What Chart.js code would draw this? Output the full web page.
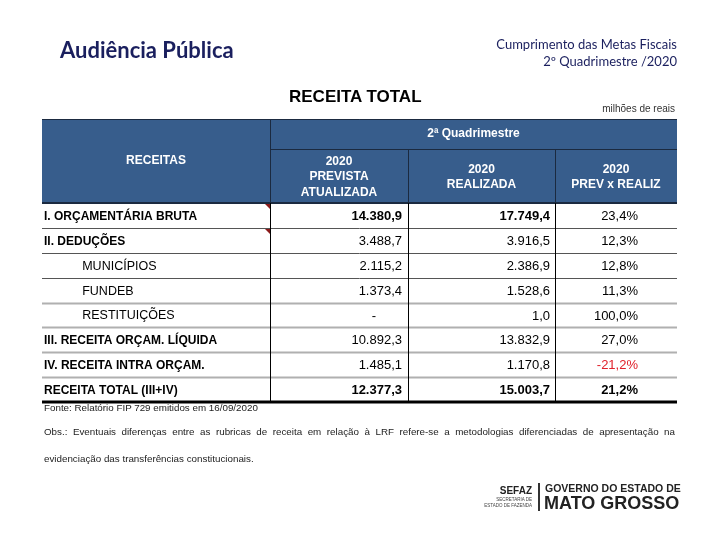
<!DOCTYPE html>
<html><head><meta charset="utf-8">
<script src="https://cdn.jsdelivr.net/npm/chart.js@4.4.0/dist/chart.umd.min.js"></script>
<style>
html,body{margin:0;padding:0;background:#fff;width:720px;height:540px;overflow:hidden;}
#wrap{position:relative;width:720px;height:540px;}
canvas{position:absolute;left:0;top:0;}
.t{position:absolute;white-space:nowrap;line-height:1;}
.navy{color:#1a1f5e;font-family:'Lato',sans-serif;}
.ar{font-family:'Liberation Sans',Arial,sans-serif;}
</style></head><body>
<div id="wrap">
<canvas id="c" width="720" height="540"></canvas>
<div class="t navy" style="left:60px;top:39px;font-size:22px;font-weight:bold;">Audiência Pública</div>
<div class="t navy" style="right:43px;top:38px;font-size:13px;text-align:right;">Cumprimento das Metas Fiscais</div>
<div class="t navy" style="right:43px;top:55px;font-size:13px;text-align:right;">2º Quadrimestre /2020</div>
<div class="t ar" style="left:289px;top:88px;font-size:17px;font-weight:bold;color:#000;">RECEITA TOTAL</div>
<div class="t ar" style="right:45px;top:104px;font-size:10px;color:#333;">milhões de reais</div>
<div class="t ar" style="left:44px;top:403px;font-size:9.8px;color:#222;">Fonte: Relatório FIP 729 emitidos em 16/09/2020</div>
<div class="t ar" style="left:44px;top:427px;width:631px;font-size:9.8px;color:#222;text-align:justify;text-align-last:justify;white-space:normal;">Obs.: Eventuais diferenças entre as rubricas de receita em relação à LRF refere-se a metodologias diferenciadas de apresentação na</div>
<div class="t ar" style="left:44px;top:454px;font-size:9.8px;color:#222;">evidenciação das transferências constitucionais.</div>
<div class="t ar" style="right:188px;top:486px;font-size:10px;font-weight:bold;color:#222;text-align:right;">SEFAZ</div>
<div class="t ar" style="right:188px;top:497px;font-size:4.5px;color:#444;text-align:right;line-height:1.3;">SECRETARIA DE<br>ESTADO DE FAZENDA</div>
<div style="position:absolute;left:538px;top:483px;width:2px;height:28px;background:#333;"></div>
<div class="t ar" style="left:545px;top:483px;font-size:10.5px;font-weight:bold;color:#222;">GOVERNO DO ESTADO DE</div>
<div class="t ar" style="left:544px;top:494px;font-size:18px;font-weight:bold;color:#222;">MATO GROSSO</div>
</div>
<script>
// ---- data ----
const rowLabels = ['I. ORÇAMENTÁRIA BRUTA','II. DEDUÇÕES','MUNICÍPIOS','FUNDEB','RESTITUIÇÕES','III. RECEITA ORÇAM. LÍQUIDA','IV. RECEITA INTRA ORÇAM.','RECEITA TOTAL (III+IV)'];
const rowLevel = [0,0,1,1,1,0,0,0];
const rowBold = [1,1,0,0,0,1,1,1];
const prevista = [14380.9, 3488.7, 2115.2, 1373.4, null, 10892.3, 1485.1, 12377.3];
const realizada = [17749.4, 3916.5, 2386.9, 1528.6, 1.0, 13832.9, 1170.8, 15003.7];
const variacao = [23.4, 12.3, 12.8, 11.3, 100.0, 27.0, -21.2, 21.2];
const firstHeader = 'RECEITAS';
const groupHeader = '2ª Quadrimestre';
const colHeaders = [['2020','PREVISTA','ATUALIZADA'],['2020','REALIZADA'],['2020','PREV x REALIZ']];

// ---- layout ----
const colEdges = [0, 138, 285, 407];
const HEADER_H = 84, HEADER_SPLIT = 30;
const FONT = 'Liberation Sans, Arial, sans-serif';

function fmt(n){
  const neg = n < 0; n = Math.abs(n);
  let [i,d] = n.toFixed(1).split('.');
  i = i.replace(/\B(?=(\d{3})+(?!\d))/g,'.');
  return (neg?'-':'') + i + ',' + d;
}

const tablePlugin = {
  id:'table',
  beforeDraw(chart){
    const {ctx, chartArea:a, scales:{x,y}} = chart;
    const L = y.left - 2, R = a.right, B = a.top, T = a.top - HEADER_H;
    const cx = colEdges.map(v => x.getPixelForValue(v));
    ctx.save();
    ctx.fillStyle = '#375D8C';
    ctx.fillRect(L, T, R-L, HEADER_H);
    ctx.strokeStyle = '#1b2a40'; ctx.lineWidth = 1;
    ctx.beginPath();
    ctx.moveTo(L, T+0.5); ctx.lineTo(R, T+0.5);
    ctx.moveTo(cx[0], T+HEADER_SPLIT+0.5); ctx.lineTo(R, T+HEADER_SPLIT+0.5);
    ctx.moveTo(cx[0]+0.5, T); ctx.lineTo(cx[0]+0.5, B);
    ctx.moveTo(cx[1]+0.5, T+HEADER_SPLIT); ctx.lineTo(cx[1]+0.5, B);
    ctx.moveTo(cx[2]+0.5, T+HEADER_SPLIT); ctx.lineTo(cx[2]+0.5, B);
    ctx.stroke();
    ctx.fillStyle = '#fff';
    ctx.font = 'bold 12px ' + FONT;
    ctx.textAlign = 'center'; ctx.textBaseline = 'middle';
    ctx.fillText(firstHeader, (L + cx[0])/2, T + HEADER_H/2);
    ctx.fillText(groupHeader, (cx[0] + R)/2, T + HEADER_SPLIT/2);
    const subMid = T + HEADER_SPLIT + (HEADER_H - HEADER_SPLIT)/2;
    colHeaders.forEach((lines, k) => {
      const mx = (cx[k] + cx[k+1])/2;
      const lh = 15.5;
      lines.forEach((s, j) => {
        ctx.fillText(s, mx, subMid + (j - (lines.length-1)/2)*lh + 1);
      });
    });
    ctx.restore();
  },
  afterDraw(chart){
    const {ctx, chartArea:a, scales:{x,y}} = chart;
    const L = y.left - 2, R = a.right;
    const cx = colEdges.map(v => x.getPixelForValue(v));
    const band = y.getPixelForValue(1) - y.getPixelForValue(0);
    const n = rowLabels.length;
    ctx.save();
    for (let i = 1; i < n; i++){
      const yy = y.getPixelForValue(i) - band/2;
      if (i <= 3){ ctx.strokeStyle = '#555'; ctx.lineWidth = 1; }
      else { ctx.strokeStyle = '#b0b0b0'; ctx.lineWidth = 2; }
      ctx.beginPath(); ctx.moveTo(L, Math.round(yy)+0.5); ctx.lineTo(R, Math.round(yy)+0.5); ctx.stroke();
    }
    ctx.strokeStyle = '#1b2a40'; ctx.lineWidth = 2;
    ctx.beginPath(); ctx.moveTo(L, a.top); ctx.lineTo(R, a.top); ctx.stroke();
    ctx.strokeStyle = '#000'; ctx.lineWidth = 3;
    ctx.beginPath(); ctx.moveTo(L, a.bottom); ctx.lineTo(R, a.bottom); ctx.stroke();
    ctx.strokeStyle = '#000'; ctx.lineWidth = 1;
    ctx.beginPath();
    for (let k = 0; k < 3; k++){
      ctx.moveTo(cx[k]+0.5, a.top); ctx.lineTo(cx[k]+0.5, a.bottom - 1);
    }
    ctx.stroke();
    ctx.fillStyle = '#8b1a1a';
    [0,1].forEach(i => {
      const top = y.getPixelForValue(i) - band/2 + 1;
      ctx.beginPath(); ctx.moveTo(cx[0]-5, top); ctx.lineTo(cx[0], top); ctx.lineTo(cx[0], top+5); ctx.closePath(); ctx.fill();
    });
    ctx.textBaseline = 'middle'; ctx.textAlign = 'right';
    for (let i = 0; i < n; i++){
      const yy = y.getPixelForValue(i) + 1;
      const boldV = (i === 0 || i === n-1);
      ctx.fillStyle = '#000';
      ctx.font = (boldV ? 'bold ' : '') + '13px ' + FONT;
      if (prevista[i] === null) ctx.fillText('-', cx[1] - 32, yy);
      else ctx.fillText(fmt(prevista[i]), cx[1] - 6, yy);
      ctx.fillText(fmt(realizada[i]), cx[2] - 5, yy);
      ctx.font = (i === n-1 ? 'bold ' : '') + '13px ' + FONT;
      ctx.fillStyle = variacao[i] < 0 ? '#e0202a' : '#000';
      ctx.fillText(fmt(variacao[i]) + '%', cx[3] - 39, yy);
    }
    ctx.restore();
  }
};

new Chart(document.getElementById('c'), {
  type: 'bar',
  data: {
    labels: rowLabels,
    datasets: [
      {label:'2020 PREVISTA ATUALIZADA', data: prevista, hidden: true},
      {label:'2020 REALIZADA', data: realizada, hidden: true},
      {label:'2020 PREV x REALIZ', data: variacao, hidden: true}
    ]
  },
  options: {
    responsive: false, animation: false, indexAxis: 'y',
    layout: {padding: {left: 44, right: 43, top: 203, bottom: 138}},
    plugins: {legend: {display: false}, tooltip: {enabled: false}},
    scales: {
      x: {type: 'linear', min: 0, max: 407, display: false},
      y: {
        type: 'category', offset: true,
        grid: {display: false}, border: {display: false},
        afterFit: s => { s.width = 226; },
        ticks: {
          crossAlign: 'far', padding: 0, color: '#000', autoSkip: false, labelOffset: 1,
          font: ctx => (rowBold[ctx.index] ? {family: FONT, size: 12, weight: 'bold'} : {family: FONT, size: 12.5, weight: 'normal'}),
          callback: (v, i) => ' '.repeat(rowLevel[i] * 11) + rowLabels[i]
        }
      }
    }
  },
  plugins: [tablePlugin]
});
</script>
</body></html>
